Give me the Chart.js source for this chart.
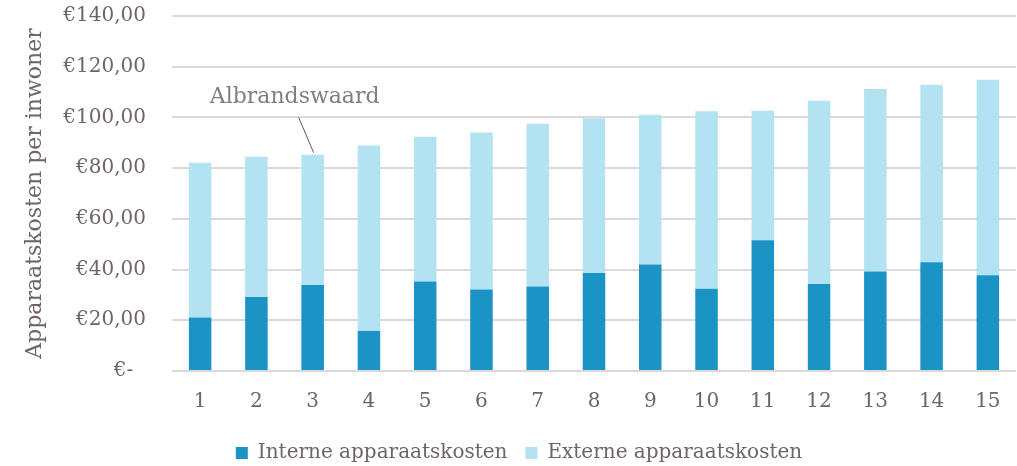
<!DOCTYPE html>
<html>
<head>
<meta charset="utf-8">
<script src="https://cdn.jsdelivr.net/npm/chart.js@4.4.1/dist/chart.umd.min.js"></script>
<style>
  html, body { margin: 0; padding: 0; background: #fff; }
  #wrap { position: relative; width: 1017px; height: 466px; }
</style>
</head>
<body>
<div id="wrap"><canvas id="chart"></canvas></div>
<script>
// gemeente 1..15, apparaatskosten per inwoner (euro)
var categories = ['1','2','3','4','5','6','7','8','9','10','11','12','13','14','15'];
var interneKosten = [21.1, 29.2, 33.9, 15.8, 35.3, 32.1, 33.3, 38.6, 42.0, 32.4, 51.6, 34.3, 39.2, 42.9, 37.8];
var totaalKosten  = [82.1, 84.5, 85.3, 88.9, 92.4, 94.1, 97.5, 99.7, 101.1, 102.4, 102.6, 106.6, 111.2, 112.9, 114.9];
var externeKosten = totaalKosten.map(function(t, i){ return Math.round((t - interneKosten[i]) * 10) / 10; });
var yTicks = [0, 20, 40, 60, 80, 100, 120, 140];

var annotIndex = 2;          // Albrandswaard = bar 3
var annotText = 'Albrandswaard';
var annotTextValue = 108;

var textColor = '#6f6466';
var fontFamily = '"DejaVu Serif", serif';

function euro(v) {
  if (v === 0) return '€-  ';
  return '€' + v.toFixed(2).replace('.', ',');
}

var annotationPlugin = {
  id: 'albrandswaard',
  afterDatasetsDraw: function(chart) {
    var ctx = chart.ctx, x = chart.scales.x, y = chart.scales.y;
    var bx = x.getPixelForValue(annotIndex);
    var by = y.getPixelForValue(totaalKosten[annotIndex]);
    var ty = y.getPixelForValue(annotTextValue);
    ctx.save();
    ctx.strokeStyle = '#595959';
    ctx.lineWidth = 1;
    ctx.beginPath();
    ctx.moveTo(bx - 14, y.getPixelForValue(100));
    ctx.lineTo(bx + 1, by - 2);
    ctx.stroke();
    ctx.fillStyle = '#7f7f7f';
    ctx.font = '22px ' + fontFamily;
    ctx.textAlign = 'center';
    ctx.textBaseline = 'middle';
    ctx.fillText(annotText, bx - 18, ty);
    ctx.restore();
  }
};

new Chart(document.getElementById('chart').getContext('2d'), {
  type: 'bar',
  data: {
    labels: categories,
    datasets: [
      { label: 'Interne apparaatskosten', data: interneKosten, backgroundColor: '#1b93c5', borderWidth: 0 },
      { label: 'Externe apparaatskosten', data: externeKosten, backgroundColor: '#b3e2f3', borderWidth: 0 }
    ]
  },
  options: {
    responsive: true,
    maintainAspectRatio: false,
    animation: false,
    layout: { padding: { top: 16, right: 1, bottom: -7, left: 22 } },
    datasets: { bar: { categoryPercentage: 0.8, barPercentage: 0.5 } },
    plugins: {
      legend: {
        position: 'bottom',
        labels: {
          color: textColor,
          font: { family: fontFamily, size: 20 },
          boxWidth: 12, boxHeight: 12,
          padding: 18
        }
      },
      tooltip: { enabled: false }
    },
    scales: {
      x: {
        stacked: true,
        grid: { display: false },
        border: { display: false },
        ticks: { color: textColor, font: { family: fontFamily, size: 20 }, padding: 11, maxRotation: 0 }
      },
      y: {
        stacked: true,
        min: 0, max: 140,
        afterBuildTicks: function(axis){ axis.ticks = yTicks.map(function(v){ return { value: v }; }); },
        afterFit: function(axis){ axis.width = 150; axis.paddingTop = 0; axis.paddingBottom = 0; },
        grid: { color: '#dcd8d9', lineWidth: 2, drawTicks: false },
        border: { display: false },
        ticks: { color: textColor, font: { family: fontFamily, size: 20 }, padding: 26, callback: euro },
        title: {
          display: true,
          text: 'Apparaatskosten per inwoner',
          color: textColor,
          font: { family: fontFamily, size: 22 },
          padding: { top: 0, bottom: 0 }
        }
      }
    }
  },
  plugins: [annotationPlugin]
});
</script>
</body>
</html>
